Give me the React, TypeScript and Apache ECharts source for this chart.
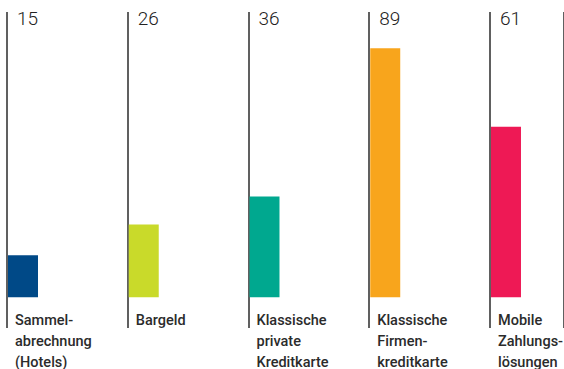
import React, { useEffect, useRef } from "react";
import * as echarts from "echarts";

const categories = [
  "Sammel-\nabrechnung\n(Hotels)",
  "Bargeld",
  "Klassische\nprivate\nKreditkarte",
  "Klassische\nFirmen-\nkreditkarte",
  "Mobile\nZahlungs-\nlösungen",
];
const values = [15, 26, 36, 89, 61];
const colors = ["#004987", "#C9DA2A", "#00A88F", "#F8A51C", "#EE1955"];

export default function App() {
  const ref = useRef<HTMLDivElement>(null);
  useEffect(() => {
    if (!ref.current) return;
    const chart = echarts.init(ref.current, null, { renderer: "svg" });
    chart.setOption({
      animation: false,
      backgroundColor: "#ffffff",
      grid: { left: 7, top: 12, bottom: 41, right: 0 },
      xAxis: {
        type: "value",
        min: 0,
        max: 4.613,
        interval: 1,
        axisLine: { show: false },
        axisTick: { show: false },
        axisLabel: { show: false },
        splitLine: {
          show: true,
          lineStyle: { color: "#2b2b2b", width: 1.5 },
        },
      },
      yAxis: {
        type: "value",
        min: -11,
        max: 102,
        show: false,
        splitLine: { show: false },
      },
      series: [
        {
          type: "custom",
          clip: false,
          data: values.map((v, i) => [i, v]),
          renderItem: (params: any, api: any) => {
            const idx = api.value(0);
            const val = api.value(1);
            const base = api.coord([idx, 0]);
            const top = api.coord([idx, val]);
            const left = base[0];
            const cs = params.coordSys;
            return {
              type: "group",
              children: [
                {
                  type: "rect",
                  shape: { x: left + 1, y: top[1], width: 30, height: base[1] - top[1] },
                  style: { fill: colors[idx] },
                },
                {
                  type: "text",
                  style: {
                    text: String(val),
                    x: left + 10,
                    y: cs.y - 3,
                    textVerticalAlign: "top",
                    fill: "#222222",
                    fontFamily: "Roboto",
                    fontWeight: 300,
                    fontSize: 19,
                  },
                },
                {
                  type: "text",
                  style: {
                    text: categories[idx],
                    x: left + 8,
                    y: 310,
                    textVerticalAlign: "top",
                    fill: "#2b2b2b",
                    fontFamily: "Roboto",
                    fontWeight: 500,
                    fontSize: 14.5,
                    lineHeight: 21,
                  },
                },
              ],
            };
          },
        },
      ],
    });
    return () => chart.dispose();
  }, []);
  return <div ref={ref} style={{ width: 564, height: 369, position: "absolute", left: 0, top: 0 }} />;
}
